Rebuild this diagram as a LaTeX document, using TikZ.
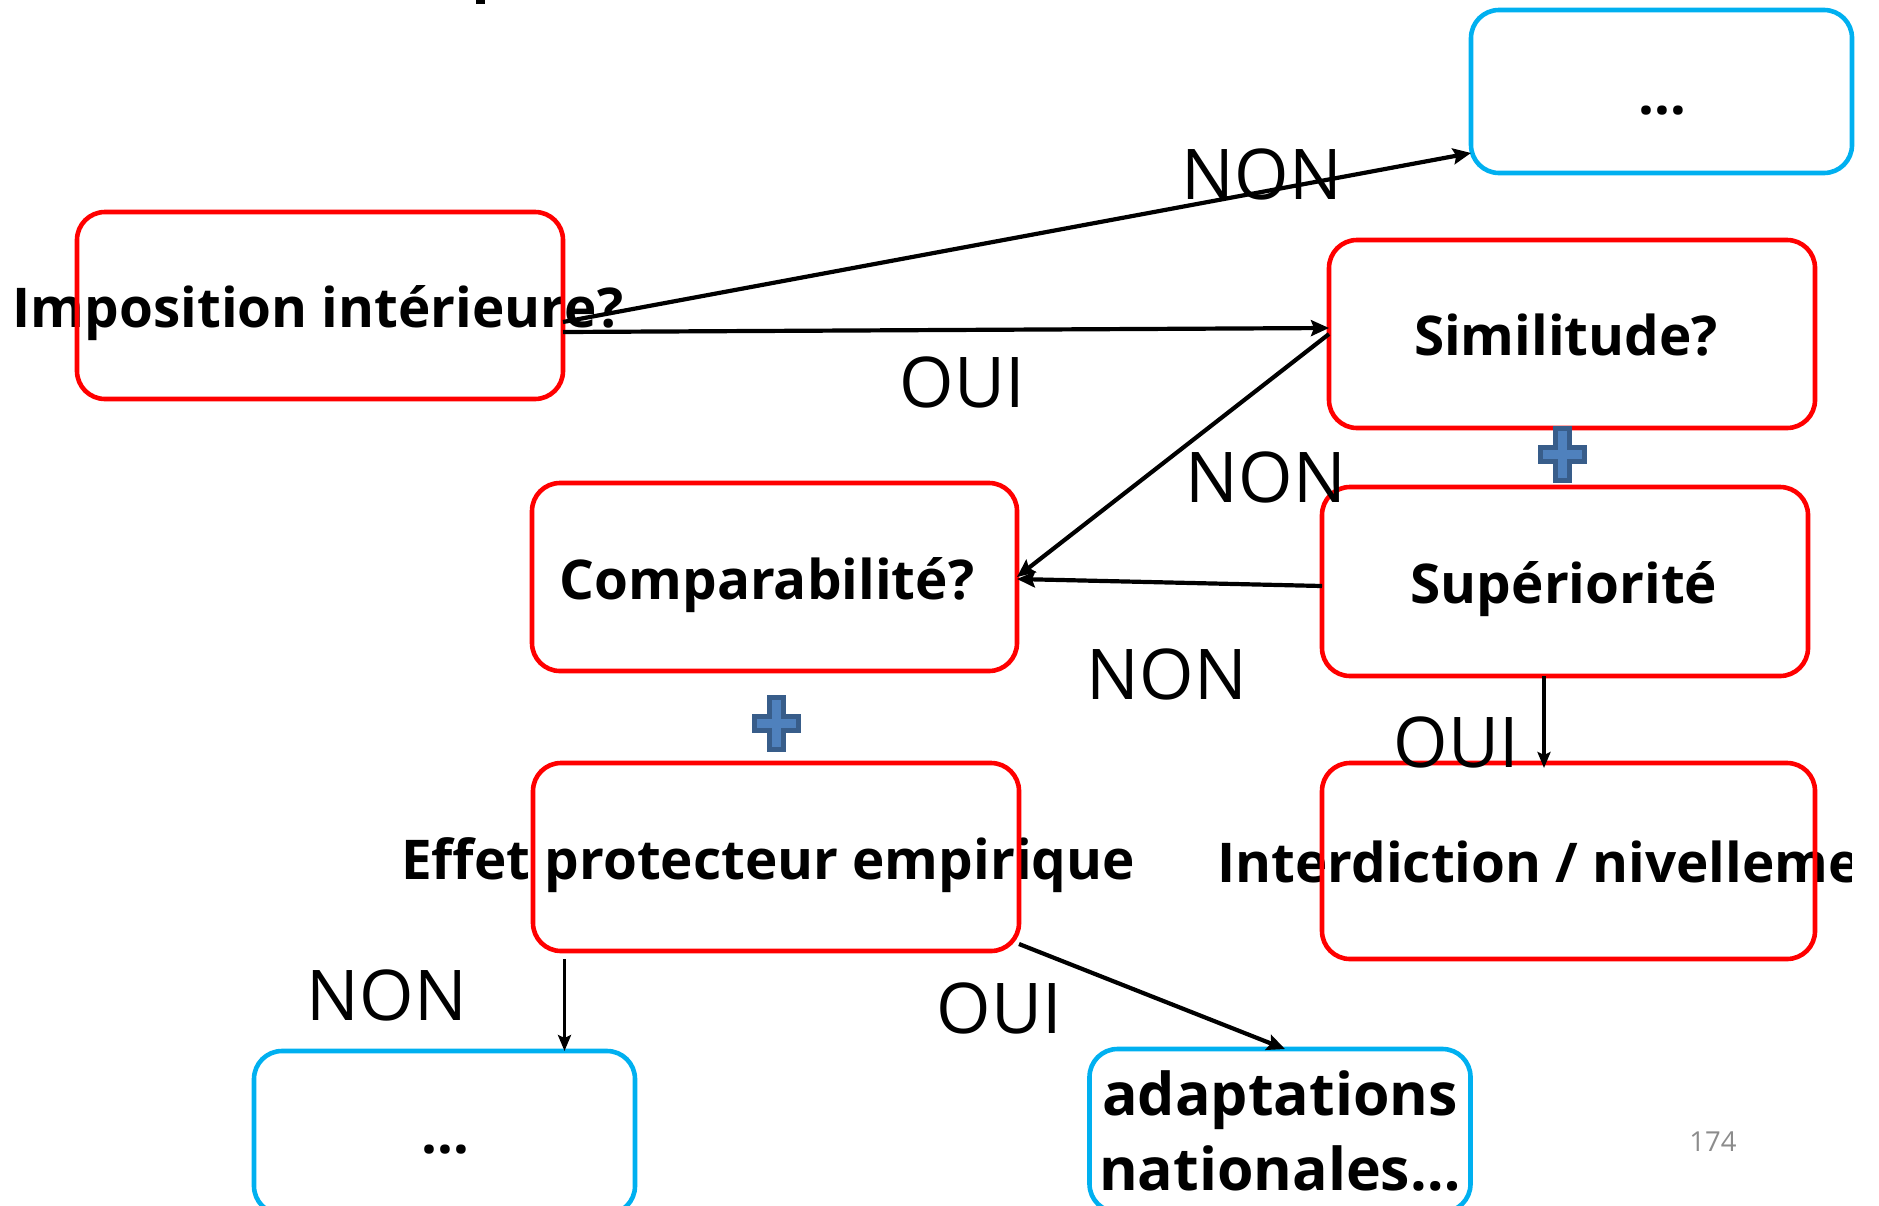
\documentclass[tikz,border=0pt]{standalone}
\usepackage{fontspec}
\setmainfont{Open Sans}
\usetikzlibrary{arrows.meta}
\definecolor{boxred}{HTML}{FF0000}
\definecolor{boxblue}{HTML}{00B0F0}
\definecolor{plusfill}{HTML}{4F81BD}
\definecolor{plusedge}{HTML}{385D8A}
\definecolor{pagegray}{HTML}{8C8C8C}
\tikzset{
  box/.style={rectangle, rounded corners=14pt, line width=2.3pt, inner sep=0pt, outer sep=0pt},
  redbox/.style={box, draw=boxred},
  bluebox/.style={box, draw=boxblue, minimum width=190.5pt, minimum height=81.5pt},
  boldtxt/.style={font=\fontsize{27.4}{33}\selectfont\bfseries, inner sep=0pt, anchor=base},
  lbl/.style={font=\fontsize{35}{42}\selectfont, inner sep=0pt},
  arr/.style={line width=2.1pt, -{Stealth[length=9pt,width=8pt,inset=1.5pt]}},
  thinarr/.style={line width=1.8pt, -{Stealth[length=8pt,width=6.5pt,inset=1.5pt]}},
  plussign/.pic={
    \filldraw[fill=plusfill, draw=plusedge, line width=2.5pt, line join=miter]
      (-7,-26) -- ++(14,0) -- ++(0,19) -- ++(15,0) -- ++(0,14) -- ++(-15,0)
      -- ++(0,19) -- ++(-14,0) -- ++(0,-19) -- ++(-15,0) -- ++(0,-14) -- ++(15,0) -- cycle;
  }
}
\begin{document}
\begin{tikzpicture}[x=0.5pt, y=-0.5pt]
\useasboundingbox (0,0) rectangle (1879,1205);

% remnant of the cut-off heading
\fill (476,0) rectangle (485,4);

% box texts (set first: the outlines run over them)
\node[boldtxt] (imptxt) at (318,327) {Imposition intérieure?};
\node[boldtxt] (simtxt) at (1566,355) {Similitude?};
\node[boldtxt] (suptxt) at (1564,603) {Supériorité};
\node[boldtxt] (comptxt) at (767,599) {Comparabilité?};
\node[boldtxt] (efftxt) at (768,879) {Effet protecteur empirique};
\begin{scope}
  \clip (0,0) rectangle (1851,1205);
  \node[boldtxt, anchor=base west] (intertxt) at (1217,882) {Interdiction / nivellement};
\end{scope}
\node[inner sep=0pt, align=center, font=\fontsize{29.5}{37.5}\selectfont\bfseries] (adapttxt) at (1280,1131) {adaptations\\nationales…};
\node[inner sep=0pt, font=\fontsize{28}{34}\selectfont\bfseries] (dots1) at (1662,111) {…};
\node[inner sep=0pt, font=\fontsize{28}{34}\selectfont\bfseries] (dots2) at (445,1150) {…};

% question boxes
\node[redbox, minimum width=243pt, minimum height=93.5pt] (imp) at (320,305.5) {};
\node[redbox, minimum width=243pt, minimum height=94pt] (sim) at (1572,334) {};
\node[redbox, minimum width=243pt, minimum height=94.5pt] (sup) at (1565,581.5) {};
\node[redbox, minimum width=242.5pt, minimum height=94pt] (comp) at (774.5,577) {};
\node[redbox, minimum width=243pt, minimum height=94pt] (eff) at (776,857) {};
\node[redbox, minimum width=246.5pt, minimum height=98pt] (inter) at (1568.5,861) {};

% outcome boxes
\node[bluebox] (more1) at (1661.5,91.5) {};
\node[bluebox] (more2) at (444.5,1132.5) {};
\node[bluebox] (adapt) at (1280,1130.5) {};

% combination marks
\pic at (1562.5,454.5) {plussign};
\pic at (776,723.5) {plussign};

% connectors
\draw[arr] ([yshift=-8.25pt]imp.east) -- ([yshift=-30.75pt]more1.west);
\draw[arr] ([yshift=-13.25pt]imp.east) -- ([yshift=3pt]sim.west);
\draw[arr] (sim.west) -- (comp.east);
\draw[arr] ([yshift=-2.25pt]sup.west) -- ([yshift=-1pt]comp.east);
\draw[thinarr] ([xshift=-10.5pt]sup.south) -- ([xshift=-12.25pt,yshift=-2.5pt]inter.north);
\draw[thinarr] ([xshift=-105.75pt,yshift=-4pt]eff.south) -- ([xshift=60pt]more2.north);
\draw[arr] ([yshift=3.5pt]eff.south east) -- ([xshift=2.5pt]adapt.north);

% answer labels
\node[lbl] (non1) at (1262,174) {NON};
\node[lbl] (oui1) at (962,382) {OUI};
\node[lbl] (non2) at (1266,477) {NON};
\node[lbl] (non3) at (1167,674) {NON};
\node[lbl] (oui2) at (1456,742) {OUI};
\node[lbl] (non4) at (387,995) {NON};
\node[lbl] (oui3) at (999,1008) {OUI};

% slide number
\node[inner sep=0pt, font=\fontsize{13.75}{16}\selectfont, text=pagegray] (pg) at (1713,1142) {174};
\end{tikzpicture}
\end{document}
